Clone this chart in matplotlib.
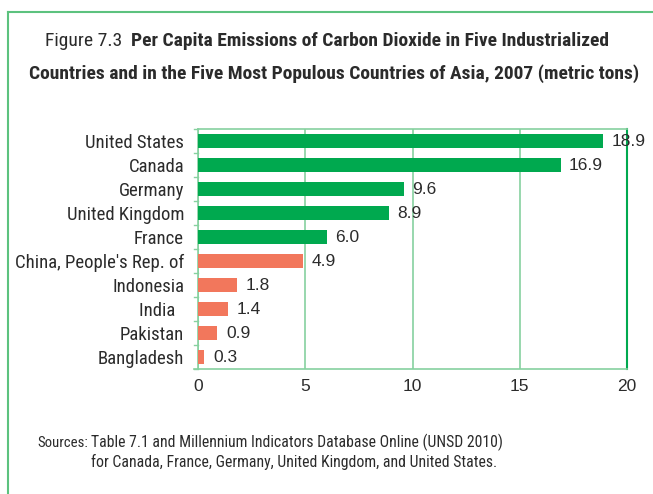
import matplotlib
matplotlib.use("Agg")
import matplotlib.pyplot as plt
from matplotlib.lines import Line2D

countries = ["United States", "Canada", "Germany", "United Kingdom", "France",
             "China, People's Rep. of", "Indonesia", "India  ", "Pakistan", "Bangladesh"]
values = [18.9, 16.9, 9.6, 8.9, 6.0, 4.9, 1.8, 1.4, 0.9, 0.3]
groups = ["ind", "ind", "ind", "ind", "ind", "asia", "asia", "asia", "asia", "asia"]
xticks = [0, 5, 10, 15, 20]

GREEN = "#00a94f"
SALMON = "#f2775c"
GRID = "#86d19f"
TXT = "#2b2b2b"
FONT = ["Liberation Sans Narrow", "Roboto Condensed", "DejaVu Sans"]
NUMFONT = ["Liberation Sans", "DejaVu Sans"]
plt.rcParams["font.family"] = FONT

fig = plt.figure(figsize=(6.53, 4.94), dpi=100)
W, H = 653, 494

# frame lines
fig.add_artist(Line2D([8 / W, 1], [1 - 12 / H, 1 - 12 / H], color="#5cc27e", lw=1.5, transform=fig.transFigure))
fig.add_artist(Line2D([8 / W, 8 / W], [0, 1 - 12 / H], color="#5cc27e", lw=1.5, transform=fig.transFigure))

ax = fig.add_axes([198 / W, 1 - 369 / H, (627 - 198) / W, (369 - 129) / H])
n = len(countries)
ypos = list(range(n))[::-1]
colors = [GREEN if g == "ind" else SALMON for g in groups]
ax.barh(ypos, values, height=0.55, color=colors, zorder=3)
for y, v in zip(ypos, values):
    ax.text(v + 0.4, y, f"{v:.1f}", va="center", ha="left", fontsize=12.5,
            color=TXT, zorder=4, family=NUMFONT)

ax.set_xlim(0, 20)
ax.set_ylim(-0.5, n - 0.5)
ax.set_xticks(xticks)
ax.set_xticklabels([str(t) for t in xticks], fontsize=12.5, color=TXT, family=NUMFONT)
ax.tick_params(axis="x", length=0, pad=7)
ax.set_yticks(ypos)
ax.set_yticklabels(countries, fontsize=13.5, color=TXT)
ax.tick_params(axis="y", length=0, pad=10)
# category separator ticks on left spine
for b in [i - 0.5 for i in range(n + 1)]:
    ax.plot([-0.17, 0], [b, b], color=GRID, lw=1, clip_on=False, zorder=5)
ax.plot([-0.17, 0], [-0.5, -0.5], color=GRID, lw=1.2, clip_on=False, zorder=5)
ax.grid(axis="x", color=GRID, lw=1.2, zorder=1)
for s in ["left", "top", "bottom"]:
    ax.spines[s].set_color(GRID)
    ax.spines[s].set_linewidth(1.2)
ax.spines["right"].set_color(GREEN)
ax.spines["right"].set_linewidth(1.5)

# title
t1 = fig.text(45 / W, 1 - 41 / H, "Figure 7.3  ", fontsize=14, color=TXT, va="center", ha="left")
fig.canvas.draw()
ax.annotate("Per Capita Emissions of Carbon Dioxide in Five Industrialized",
            xy=(1, 0.5), xycoords=t1, va="center", ha="left", fontsize=14,
            fontweight="bold", color=TXT, annotation_clip=False)
fig.text(334 / W, 1 - 74 / H,
         "Countries and in the Five Most Populous Countries of Asia, 2007 (metric tons)",
         fontsize=14, fontweight="bold", color=TXT, va="center", ha="center")

# sources
fig.text(37 / W, 1 - 447 / H, "Sources:", fontsize=10.6, color=TXT, va="baseline", ha="left")
fig.text(91 / W, 1 - 447 / H,
         "Table 7.1 and Millennium Indicators Database Online (UNSD 2010)",
         fontsize=11.3, color=TXT, va="baseline", ha="left")
fig.text(91 / W, 1 - 467 / H,
         "for Canada, France, Germany, United Kingdom, and United States.",
         fontsize=11.3, color=TXT, va="baseline", ha="left")

fig.savefig("out.png", dpi=100)
